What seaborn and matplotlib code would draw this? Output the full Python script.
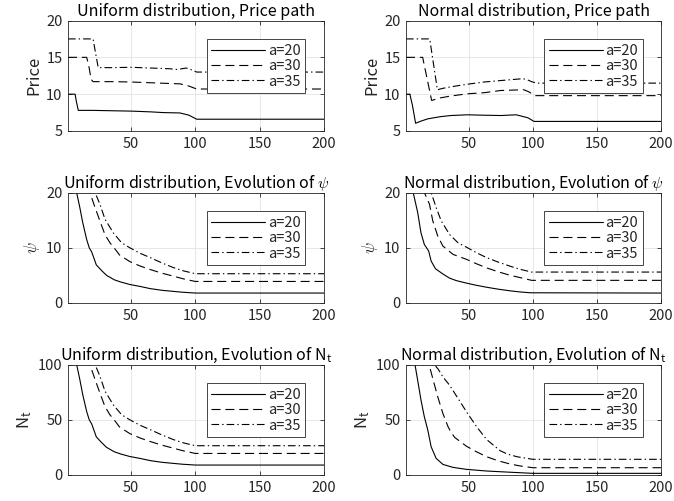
import matplotlib
matplotlib.use("Agg")
import matplotlib.pyplot as plt
import seaborn as sns
import pandas as pd

# ---------------- data ----------------
labels = ["a=20", "a=30", "a=35"]
x_ticks = [50, 100, 150, 200]

# Uniform distribution, price path
u_price_x20 = [1, 6.5, 7.5, 9, 20, 35, 50, 65, 75, 88, 95, 101, 200]
u_price_y20 = [10.0, 10.0, 9.0, 7.8, 7.8, 7.75, 7.7, 7.6, 7.5, 7.45, 7.15, 6.6, 6.6]
u_price_x30 = [1, 15.5, 17, 19, 20.5, 35, 50, 65, 80, 88, 95, 101, 200]
u_price_y30 = [15.0, 15.0, 14.0, 12.0, 11.7, 11.7, 11.65, 11.55, 11.45, 11.4, 11.1, 10.7, 10.7]
u_price_x35 = [1, 20.5, 22.5, 24.5, 35, 50, 65, 80, 86, 93, 97, 101, 200]
u_price_y35 = [17.5, 17.5, 15.5, 13.6, 13.6, 13.65, 13.55, 13.45, 13.35, 13.55, 13.3, 13.0, 13.0]

# Normal distribution, price path
n_price_x20 = [1, 4, 6, 8.5, 12, 18, 28, 36, 49, 60, 75, 87, 96, 101, 200]
n_price_y20 = [10.0, 10.0, 8.5, 6.05, 6.3, 6.65, 6.95, 7.1, 7.2, 7.15, 7.1, 7.2, 6.8, 6.3, 6.3]
n_price_x30 = [1, 14, 21, 28, 36, 49, 62, 75, 93, 97, 102, 200]
n_price_y30 = [15.0, 15.0, 9.15, 9.5, 9.75, 10.05, 10.2, 10.5, 10.6, 10.3, 9.8, 9.8]
n_price_x35 = [1, 19.5, 25.5, 30, 36, 49, 62, 75, 92, 95, 99, 103, 200]
n_price_y35 = [17.5, 17.5, 10.6, 10.8, 11.0, 11.35, 11.65, 11.85, 12.1, 12.0, 11.7, 11.5, 11.5]

# Uniform distribution, psi
u_psi_x20 = [1, 7.7, 10, 12.5, 15.5, 17.5, 19.5, 23, 27, 31, 37, 42, 49, 57, 65, 74, 83, 90, 100, 200]
u_psi_y20 = [20, 20, 17.5, 14.5, 11.5, 10.0, 9.2, 6.9, 5.9, 5.0, 4.2, 3.8, 3.35, 3.0, 2.6, 2.3, 2.1, 1.95, 1.8, 1.8]
u_psi_x30 = [1, 18, 22, 25.8, 29.7, 33.6, 38.8, 41, 49, 57, 65, 74, 83, 91, 100, 200]
u_psi_y30 = [20, 20, 17.3, 14.85, 12.4, 10.9, 9.4, 8.7, 7.5, 6.7, 6.05, 5.4, 4.85, 4.35, 3.9, 3.9]
u_psi_x35 = [1, 22, 25.8, 29.7, 36.2, 42.7, 49, 57, 65, 74, 83, 91, 100, 200]
u_psi_y35 = [20, 20, 17.9, 15.2, 12.7, 10.9, 10.0, 9.0, 8.2, 7.25, 6.4, 5.8, 5.3, 5.3]

# Normal distribution, psi
n_psi_x20 = [1, 6.6, 10.1, 12.7, 15.3, 18.7, 20.6, 24, 29.8, 35, 40.3, 48.2, 56, 64, 73, 82.4, 90, 98, 200]
n_psi_y20 = [20, 20, 16.4, 12.7, 10.6, 9.4, 7.6, 6.2, 5.25, 4.5, 4.05, 3.6, 3.2, 2.85, 2.5, 2.2, 2.0, 1.85, 1.8]
n_psi_x30 = [1, 15.3, 19.3, 21.9, 25.8, 29.8, 37.7, 48.2, 56, 64, 73, 82.4, 90, 99, 200]
n_psi_y30 = [20, 20, 17.9, 14.85, 12.1, 10.3, 8.8, 7.9, 7.1, 6.35, 5.65, 5.0, 4.6, 4.1, 4.1]
n_psi_x35 = [1, 20.6, 24.5, 28.5, 35, 41.6, 48.2, 56, 64, 73, 82.4, 90, 99, 200]
n_psi_y35 = [20, 20, 17.3, 14.85, 12.4, 10.9, 10.1, 9.1, 8.2, 7.4, 6.65, 6.1, 5.6, 5.6]

# Uniform distribution, N_t
u_n_x20 = [1, 7.7, 10, 12.5, 15.5, 17.5, 19.5, 23, 27, 31, 37, 42, 49, 57, 65, 74, 83, 90, 100, 200]
u_n_y20 = [100, 100, 87.5, 72.5, 57.5, 50, 46, 34.5, 29.5, 25, 21, 19, 16.75, 15, 13, 11.5, 10.5, 9.75, 9, 9]
u_n_x30 = [1, 18, 22, 25.8, 29.7, 33.6, 38.8, 41, 49, 57, 65, 74, 83, 91, 100, 200]
u_n_y30 = [100, 100, 86.5, 74.25, 62, 54.5, 47, 43.5, 37.5, 33.5, 30.25, 27, 24.25, 21.75, 19.5, 19.5]
u_n_x35 = [1, 22, 25.8, 29.7, 36.2, 42.7, 49, 57, 65, 74, 83, 91, 100, 200]
u_n_y35 = [100, 100, 89.5, 76, 63.5, 54.5, 50, 45, 41, 36.25, 32, 29, 26.5, 26.5]

# Normal distribution, N_t
n_n_x20 = [1, 8, 10.1, 12.7, 15.3, 18, 20.6, 24.5, 29.8, 37.7, 48.2, 64, 82.4, 100, 200]
n_n_y20 = [100, 100, 85.8, 67.8, 52.7, 40.7, 25.6, 15.1, 9.6, 6.9, 5.1, 3.6, 2.5, 1.5, 1.5]
n_n_x30 = [1, 19, 21.9, 25.8, 29.8, 33.7, 36, 39, 48.2, 56, 64, 73, 82.4, 90, 100, 200]
n_n_y30 = [100, 100, 87.3, 70.7, 55.7, 44, 39, 34, 26, 21, 16.5, 12.8, 9.9, 8.2, 6.6, 6.6]
n_n_x35 = [1, 23, 26, 29.8, 35, 41.6, 48.2, 56.1, 64, 74.5, 80, 87.7, 100, 200]
n_n_y35 = [100, 100, 96, 88.8, 81.3, 69.3, 57.2, 43.7, 32, 22, 19, 16.5, 14.2, 14.2]

panels = [
    ("Uniform distribution, Price path", "Price", (5, 20), [5, 10, 15, 20],
     [(u_price_x20, u_price_y20), (u_price_x30, u_price_y30), (u_price_x35, u_price_y35)]),
    ("Normal distribution, Price path", "Price", (5, 20), [5, 10, 15, 20],
     [(n_price_x20, n_price_y20), (n_price_x30, n_price_y30), (n_price_x35, n_price_y35)]),
    (r"Uniform distribution, Evolution of $\psi$", r"$\psi$", (0, 20), [0, 10, 20],
     [(u_psi_x20, u_psi_y20), (u_psi_x30, u_psi_y30), (u_psi_x35, u_psi_y35)]),
    (r"Normal distribution, Evolution of $\psi$", r"$\psi$", (0, 20), [0, 10, 20],
     [(n_psi_x20, n_psi_y20), (n_psi_x30, n_psi_y30), (n_psi_x35, n_psi_y35)]),
    (r"Uniform distribution, Evolution of $\mathregular{N_t}$", r"$\mathregular{N_t}$", (0, 100), [0, 50, 100],
     [(u_n_x20, u_n_y20), (u_n_x30, u_n_y30), (u_n_x35, u_n_y35)]),
    (r"Normal distribution, Evolution of $\mathregular{N_t}$", r"$\mathregular{N_t}$", (0, 100), [0, 50, 100],
     [(n_n_x20, n_n_y20), (n_n_x30, n_n_y30), (n_n_x35, n_n_y35)]),
]

# ---------------- style ----------------
sns.set_style("white")
plt.rcParams["font.family"] = ["Noto Sans CJK JP", "DejaVu Sans"]
plt.rcParams["mathtext.fontset"] = "cm"
plt.rcParams["lines.scale_dashes"] = False
plt.rcParams["axes.unicode_minus"] = False

AX_COL = "#262626"
line_styles = ["-", (0, (6.5, 3.5)), (0, (5.5, 2.2, 1.0, 2.2))]

fig = plt.figure(figsize=(6.74, 5.01), dpi=100)
lefts = [68 / 674, 406 / 674]
widths = [256 / 674, 255 / 674]
bottoms = [(501 - 131) / 501, (501 - 303) / 501, (501 - 475) / 501]
h = 110.5 / 501

for i, (title, ylabel, ylim, yticks, series) in enumerate(panels):
    r, c = divmod(i, 2)
    ax = fig.add_axes([lefts[c], bottoms[r], widths[c], h])
    for (xs, ys), lab, ls in zip(series, labels, line_styles):
        df = pd.DataFrame({"t": xs, "v": ys})
        sns.lineplot(data=df, x="t", y="v", ax=ax, color="black", linestyle=ls,
                     linewidth=0.8, estimator=None, sort=False, label=lab)
    ax.set_xlim(1, 200)
    ax.set_ylim(*ylim)
    ax.set_xticks(x_ticks)
    ax.set_yticks(yticks)
    ax.grid(True, color="#e3e3e3", linewidth=0.6)
    ax.set_axisbelow(True)
    for sp in ax.spines.values():
        sp.set_color(AX_COL)
        sp.set_linewidth(0.6)
    ax.tick_params(direction="in", length=3, width=0.6, color=AX_COL,
                   labelcolor=AX_COL, labelsize=10.5, top=True, right=True,
                   bottom=True, left=True, pad=4)
    ax.set_xlabel("")
    ax.set_ylabel(ylabel, fontsize=12, color=AX_COL, labelpad=3)
    ax.set_title(title, fontsize=11.5, color="black", pad=3)
    leg = ax.legend(loc="upper left", bbox_to_anchor=(0.542, 0.83),
                    borderaxespad=0, frameon=True, fancybox=False,
                    framealpha=1, edgecolor=AX_COL, fontsize=10.5,
                    handlelength=3.7, handletextpad=0.2, borderpad=0.3,
                    labelspacing=0.1)
    leg.get_frame().set_linewidth(0.6)

fig.savefig("out.png", dpi=100)
